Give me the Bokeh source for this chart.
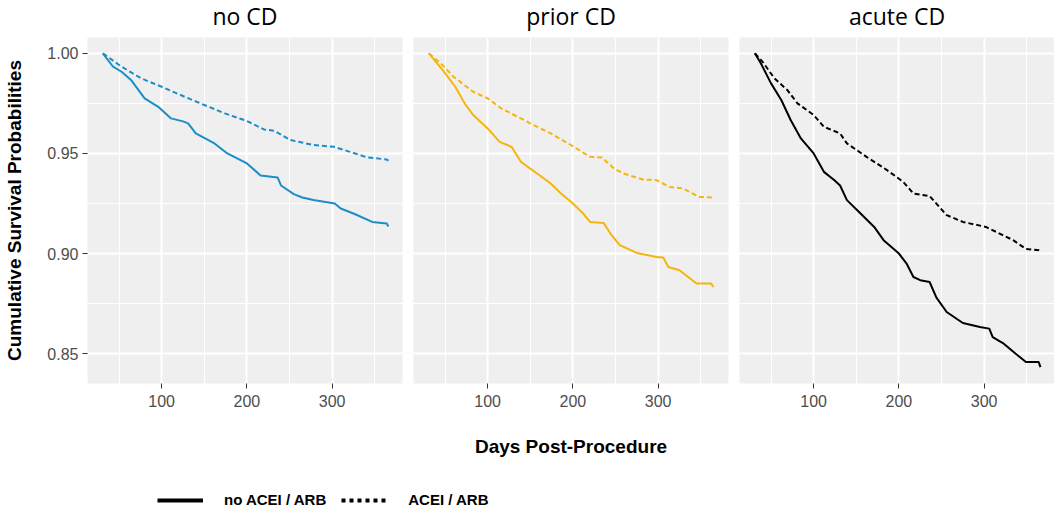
from bokeh.plotting import figure
from bokeh.layouts import column, row
from bokeh.models import Range1d, FixedTicker, Legend, LegendItem, Label, PrintfTickFormatter
from bokeh.embed import file_html
from bokeh.resources import INLINE

# ---- data ----
panels = ["no CD", "prior CD", "acute CD"]
group_labels = ["no ACEI / ARB", "ACEI / ARB"]

t_nocd_no = [31, 43, 53, 64, 80, 96, 111, 125, 131, 140, 162, 177, 200, 216, 236, 240, 255, 265, 278, 303, 310, 325, 347, 364, 366]
s_nocd_no = [1.000, 0.9933, 0.9908, 0.9867, 0.9775, 0.9733, 0.9675, 0.9660, 0.9650, 0.9600, 0.9550, 0.9500, 0.9450, 0.9390, 0.9380, 0.9340, 0.9297, 0.9280, 0.9267, 0.9250, 0.9225, 0.9200, 0.9158, 0.9150, 0.9135]
t_nocd_ace = [31, 53, 76, 100, 127, 150, 174, 200, 220, 232, 251, 278, 302, 321, 341, 364, 366]
s_nocd_ace = [1.000, 0.9933, 0.9875, 0.9833, 0.9783, 0.9742, 0.9700, 0.9662, 0.9620, 0.9613, 0.9567, 0.9542, 0.9533, 0.9508, 0.9480, 0.9470, 0.9463]

t_prior_no = [31, 47, 62, 73, 83, 100, 114, 128, 139, 158, 174, 186, 200, 212, 220, 236, 244, 255, 275, 298, 306, 312, 325, 345, 362, 365]
s_prior_no = [1.000, 0.9917, 0.9833, 0.9750, 0.9692, 0.9625, 0.9558, 0.9533, 0.9458, 0.9400, 0.9350, 0.9300, 0.9250, 0.9200, 0.9158, 0.9153, 0.9100, 0.9042, 0.9003, 0.8983, 0.8980, 0.8933, 0.8917, 0.8850, 0.8850, 0.8833]
t_prior_ace = [31, 45, 60, 83, 100, 116, 139, 150, 174, 201, 220, 234, 248, 259, 282, 298, 313, 329, 348, 365]
s_prior_ace = [1.000, 0.9950, 0.9883, 0.9808, 0.9775, 0.9725, 0.9675, 0.9650, 0.9600, 0.9533, 0.9483, 0.9480, 0.9425, 0.9400, 0.9370, 0.9367, 0.9333, 0.9325, 0.9283, 0.9280]

t_acute_no = [31, 38, 50, 62, 73, 85, 100, 112, 124, 131, 139, 155, 171, 182, 200, 209, 217, 225, 236, 244, 256, 275, 295, 306, 310, 322, 337, 349, 364, 366]
s_acute_no = [1.000, 0.9950, 0.9850, 0.9767, 0.9667, 0.9575, 0.9500, 0.9408, 0.9367, 0.9340, 0.9267, 0.9200, 0.9133, 0.9067, 0.9000, 0.8950, 0.8883, 0.8867, 0.8858, 0.8780, 0.8708, 0.8653, 0.8633, 0.8625, 0.8583, 0.8553, 0.8500, 0.8458, 0.8458, 0.8433]
t_acute_ace = [31, 40, 54, 69, 81, 100, 112, 131, 139, 162, 186, 205, 217, 236, 256, 275, 302, 318, 334, 349, 364, 366]
s_acute_ace = [1.000, 0.9958, 0.9875, 0.9817, 0.9750, 0.9692, 0.9633, 0.9600, 0.9550, 0.9483, 0.9417, 0.9358, 0.9300, 0.9287, 0.9192, 0.9158, 0.9133, 0.9100, 0.9067, 0.9023, 0.9017, 0.9008]

x_ticks = [100, 200, 300]
x_minor = [50, 150, 250, 350]
y_ticks = [0.85, 0.90, 0.95, 1.00]
y_minor = [0.875, 0.925, 0.975]

curves = [
    (t_nocd_no, s_nocd_no, t_nocd_ace, s_nocd_ace),
    (t_prior_no, s_prior_no, t_prior_ace, s_prior_ace),
    (t_acute_no, s_acute_no, t_acute_ace, s_acute_ace),
]
colors = ["#1B8DC7", "#F5B50D", "#000000"]

X0, X1 = 13, 382.5
Y0, Y1 = 0.8351, 1.0079
FRAME_W = 315
FRAME_H = 346
STRIP_H = 37
BOTTOM = 80
DASH = "5 3"

strips = []
figs = []
for i, name in enumerate(panels):
    left = 87 if i == 0 else 6
    right = 0 if i == 2 else 5

    # strip with the facet title
    s = figure(width=left + FRAME_W + right, height=STRIP_H,
               x_range=Range1d(0, 1), y_range=Range1d(0, 1),
               output_backend="svg", toolbar_location=None,
               min_border_left=left, min_border_right=right,
               min_border_top=0, min_border_bottom=0)
    s.axis.visible = False
    s.grid.visible = False
    s.outline_line_color = None
    s.background_fill_color = None
    s.add_layout(Label(x=0.5, y=(STRIP_H - 15) / STRIP_H, text=name,
                       text_align="center", text_baseline="middle",
                       text_font="Open Sans", text_font_size="23px",
                       text_color="black"))
    strips.append(s)

    p = figure(width=left + FRAME_W + right, height=FRAME_H + BOTTOM,
               x_range=Range1d(X0, X1), y_range=Range1d(Y0, Y1),
               output_backend="svg", toolbar_location=None,
               min_border_left=left, min_border_right=right,
               min_border_top=0, min_border_bottom=BOTTOM)
    p.background_fill_color = "#EFEFEF"
    p.border_fill_color = "white"
    p.outline_line_color = None

    p.xaxis.ticker = FixedTicker(ticks=x_ticks, minor_ticks=x_minor)
    p.yaxis.ticker = FixedTicker(ticks=y_ticks, minor_ticks=y_minor)
    p.xgrid.ticker = p.xaxis.ticker
    p.ygrid.ticker = p.yaxis.ticker
    for g in (p.xgrid, p.ygrid):
        g.grid_line_color = "white"
        g.grid_line_width = 2
        g.minor_grid_line_color = "white"
        g.minor_grid_line_width = 1

    for ax in (p.xaxis, p.yaxis):
        ax.axis_line_color = None
        ax.major_tick_line_color = "#333333"
        ax.major_tick_line_width = 1
        ax.major_tick_out = 5
        ax.major_tick_in = 0
        ax.minor_tick_line_color = None
        ax.major_label_text_font = "Liberation Sans"
        ax.major_label_text_font_size = "16px"
        ax.major_label_text_color = "#4D4D4D"
        ax.axis_label_text_font = "Liberation Sans"
        ax.axis_label_text_font_style = "bold"
        ax.axis_label_text_color = "black"
    p.xaxis.major_label_standoff = 6
    p.yaxis.major_label_standoff = 4
    p.yaxis.formatter = PrintfTickFormatter(format="%.2f")
    p.yaxis.axis_label_text_font_size = "19px"
    p.xaxis.axis_label_text_font_size = "19px"
    if i == 0:
        p.yaxis.axis_label = "Cumulative Survival Probabilities"
        p.yaxis.axis_label_standoff = 19
    else:
        p.yaxis.visible = False
    if i == 1:
        p.xaxis.axis_label = "Days Post-Procedure"
        p.xaxis.axis_label_standoff = 26

    t_no, s_no, t_ace, s_ace = curves[i]
    p.line(t_no, s_no, line_color=colors[i], line_width=2)
    p.line(t_ace, s_ace, line_color=colors[i], line_width=2, line_dash=DASH)
    figs.append(p)

# legend strip
total_w = sum(f.width for f in figs)
lg = figure(width=total_w, height=46, x_range=Range1d(0, 1), y_range=Range1d(0, 1),
            output_backend="svg", toolbar_location=None, min_border=0)
lg.axis.visible = False
lg.grid.visible = False
lg.outline_line_color = None
lg.background_fill_color = None
r1 = lg.line([-5, -4], [-5, -4], line_color="black", line_width=4)
r2 = lg.line([-5, -4], [-5, -4], line_color="black", line_width=4, line_dash="4 4")
legend = Legend(items=[LegendItem(label=group_labels[0], renderers=[r1]),
                       LegendItem(label=group_labels[1], renderers=[r2])],
                orientation="horizontal", location=(157, 1),
                glyph_width=46, glyph_height=14, label_standoff=21, spacing=15,
                padding=0, margin=0,
                label_text_font="Liberation Sans", label_text_font_size="15px",
                label_text_font_style="bold", label_text_color="black",
                background_fill_alpha=0, border_line_color=None)
lg.add_layout(legend, "center")

layout = column(row(*strips), row(*figs), lg)
open("out.html", "w").write(file_html(layout, INLINE))
